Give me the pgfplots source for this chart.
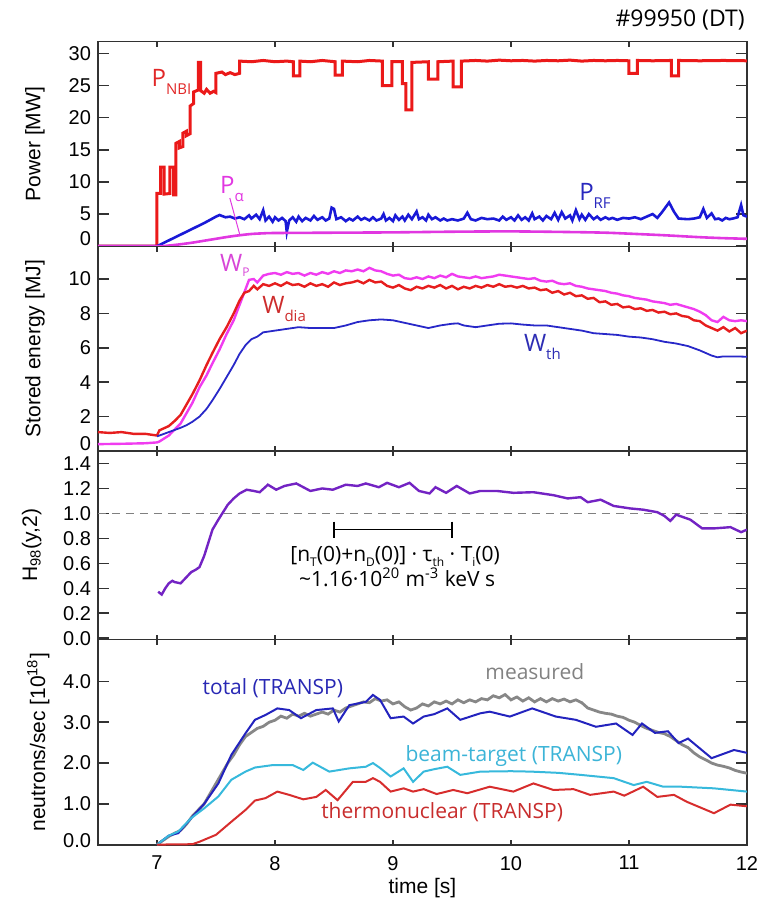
\documentclass[border=0pt]{standalone}
\usepackage{fontspec}
\setmainfont{Liberation Sans}
\newfontfamily\annot{Open Sans}
\usepackage{pgfplots}
\pgfplotsset{compat=1.18}

\definecolor{nbired}{RGB}{235,25,25}
\definecolor{rfblue}{RGB}{25,25,215}
\definecolor{alphamag}{RGB}{225,55,225}
\definecolor{wpmag}{RGB}{240,60,240}
\definecolor{wdiared}{RGB}{230,30,30}
\definecolor{wthblue}{RGB}{40,40,200}
\definecolor{hpurple}{RGB}{115,35,195}
\definecolor{totblue}{RGB}{35,35,190}
\definecolor{measgray}{RGB}{135,135,135}
\definecolor{btcyan}{RGB}{55,185,220}
\definecolor{thred}{RGB}{215,45,45}
\definecolor{frame}{RGB}{50,50,50}

\newcommand\sub[1]{\raisebox{-4pt}{\fontsize{7.5}{8}\selectfont #1}}
\newcommand\smallsub[1]{\raisebox{-2.2pt}{\fontsize{6}{7}\selectfont #1}}

\pgfplotsset{
  panel/.style={
    width=324.5pt, scale only axis,
    xmin=6.5, xmax=12, xtick={7,8,9,10,11,12},
    tick align=inside, xtick pos=both, ytick pos=both,
    axis line style={frame, line width=0.9pt},
    tick style={frame, line width=0.8pt},
    major tick length=5.5pt,
    xtick style={/pgfplots/major tick length=2.5pt},
    xticklabels={},
    ticklabel style={font=\fontsize{10}{12}\selectfont},
    /pgf/number format/assume math mode=true,
    ylabel style={anchor=center, font=\fontsize{10.5}{12}\selectfont},
    clip mode=individual,
    anchor=south west,
  }
}

\begin{document}
\begin{tikzpicture}
\path[use as bounding box] (0pt,0pt) rectangle (379.5pt,-450.5pt);

% ---------- Panel 1: Power ----------
\begin{axis}[panel, at={(49pt,-123.25pt)}, height=102.5pt,
  ymin=-0.05, ymax=31.85, ytick={0,5,10,15,20,25,30},
  yticklabels={\raisebox{0.4pt}[0pt][0pt]{0},5,10,15,20,25,30},
  ylabel={Power [MW]}, ylabel style={at={(axis description cs:-0.097,0.5)}}]
\addplot[nbired, line width=1.5pt] coordinates {
(6.5,0)(7.0,0)(7.0,8.2)(7.03,8.2)(7.03,12.3)(7.06,12.3)(7.06,8.1)(7.11,8.2)(7.11,12.3)(7.14,12.3)(7.14,8.0)(7.16,8.0)(7.16,16.0)(7.19,16.3)(7.19,15.3)(7.22,15.5)(7.22,17.6)(7.25,17.9)(7.25,17.2)(7.28,17.5)(7.28,21.8)(7.31,22.2)(7.31,24.0)(7.35,24.3)(7.35,28.6)(7.37,28.6)(7.37,24.2)(7.40,23.8)(7.42,24.4)(7.45,23.8)(7.48,24.1)(7.50,23.9)(7.50,26.9)(7.55,27.1)(7.58,26.7)(7.62,27.0)(7.66,26.7)(7.70,26.9)(7.70,28.8)(7.8,28.7)(7.9,28.9)(8.0,28.7)(8.1,28.8)(8.155,28.7)(8.155,26.5)(8.21,26.5)(8.21,28.8)(8.3,28.7)(8.4,28.9)(8.51,28.7)(8.51,26.6)(8.57,26.6)(8.57,28.8)(8.7,28.7)(8.8,28.9)(8.91,28.8)(8.91,25.0)(8.99,25.0)(8.99,28.7)(9.08,28.7)(9.08,25.3)(9.11,25.3)(9.11,21.2)(9.16,21.2)(9.16,28.6)(9.3,28.7)(9.3,26.0)(9.38,26.0)(9.38,28.7)(9.51,28.8)(9.51,24.8)(9.58,24.8)(9.58,28.8)(9.7,28.9)(9.8,28.8)(9.9,28.95)(10.0,28.85)(10.1,28.9)(10.2,28.8)(10.3,28.9)(10.4,28.85)(10.5,28.95)(10.6,28.8)(10.7,28.9)(10.8,28.85)(10.9,28.9)(11.0,28.85)(11.0,26.9)(11.07,26.9)(11.07,28.9)(11.2,28.85)(11.36,28.9)(11.36,26.5)(11.42,26.5)(11.42,28.9)(11.6,28.85)(11.8,28.9)(12.0,28.85)};
\addplot[rfblue, line width=1.3pt] coordinates {
(6.5,0)(7.0,0)(7.1,0.9)(7.2,1.8)(7.3,2.7)(7.4,3.6)(7.5,4.6)(7.53,4.85)(7.58,4.5)(7.62,4.6)(7.66,4.3)(7.7,4.5)(7.74,4.2)(7.78,4.8)(7.8,4.3)(7.84,4.9)(7.87,4.2)(7.9,5.6)(7.92,4.0)(7.95,4.6)(7.98,3.8)(8.0,4.5)(8.03,4.0)(8.06,4.4)(8.09,3.9)(8.1,2.2)(8.12,4.0)(8.15,4.5)(8.18,3.8)(8.2,4.6)(8.23,3.9)(8.26,4.4)(8.3,4.0)(8.33,4.7)(8.36,4.1)(8.4,4.5)(8.43,4.0)(8.46,4.3)(8.48,6.0)(8.5,5.8)(8.52,4.2)(8.56,4.5)(8.6,3.9)(8.63,4.3)(8.66,4.0)(8.7,4.6)(8.73,4.1)(8.76,4.4)(8.8,4.0)(8.83,4.5)(8.86,4.0)(8.9,4.3)(8.92,5.0)(8.94,4.0)(8.97,4.4)(9.0,3.9)(9.02,4.8)(9.05,4.1)(9.08,4.6)(9.1,4.0)(9.13,4.9)(9.16,4.2)(9.2,5.4)(9.22,4.2)(9.25,4.5)(9.28,4.0)(9.3,4.9)(9.33,4.2)(9.36,4.5)(9.4,4.0)(9.43,4.3)(9.46,4.0)(9.5,4.2)(9.55,4.0)(9.6,4.3)(9.63,5.2)(9.66,4.2)(9.7,4.0)(9.75,4.4)(9.8,4.2)(9.85,4.3)(9.9,4.0)(9.93,4.6)(9.96,4.1)(10.0,4.5)(10.03,4.0)(10.06,4.8)(10.09,4.1)(10.12,4.5)(10.15,4.0)(10.18,5.1)(10.2,4.2)(10.24,4.6)(10.27,4.0)(10.3,4.7)(10.34,4.2)(10.37,5.2)(10.4,4.1)(10.43,5.3)(10.46,4.3)(10.5,4.8)(10.52,4.0)(10.55,5.6)(10.58,4.2)(10.6,4.9)(10.63,4.1)(10.66,5.0)(10.7,4.2)(10.73,4.6)(10.76,4.1)(10.8,4.5)(10.83,4.2)(10.86,4.4)(10.9,4.1)(10.95,4.4)(11.0,4.3)(11.05,4.5)(11.1,4.2)(11.15,4.6)(11.2,5.0)(11.24,4.4)(11.28,5.3)(11.34,6.8)(11.38,5.4)(11.42,4.3)(11.5,4.2)(11.55,4.3)(11.6,4.5)(11.63,5.8)(11.66,4.4)(11.7,5.1)(11.73,4.2)(11.76,4.3)(11.79,4.0)(11.82,4.4)(11.85,4.2)(11.88,4.3)(11.92,4.5)(11.95,6.4)(11.97,4.8)(12.0,4.6)};
\addplot[alphamag, line width=1.3pt, smooth] coordinates {
(6.5,0)(7.0,0)(7.1,0.1)(7.2,0.3)(7.3,0.55)(7.4,0.85)(7.5,1.15)(7.6,1.45)(7.7,1.7)(7.8,1.9)(7.9,2.0)(8.0,2.05)(8.5,2.1)(9.0,2.15)(9.5,2.25)(10.0,2.3)(10.5,2.2)(10.8,2.1)(11.0,1.95)(11.3,1.7)(11.6,1.4)(11.8,1.25)(12.0,1.15)};
\addplot[alphamag, line width=0.5pt] coordinates {(7.617,7.5)(7.70,1.9)};
\node[anchor=base west, inner sep=0pt, text={rgb,255:red,225;green,40;blue,40}, font=\annot\fontsize{12}{14}\selectfont] at (axis cs:6.952,24.8) {P\sub{NBI}};
\node[anchor=base west, inner sep=0pt, text=alphamag, font=\annot\fontsize{12}{14}\selectfont] at (axis cs:7.532,8.23) {P\sub{α}};
\node[anchor=base west, inner sep=0pt, text={rgb,255:red,40;green,40;blue,190}, font=\annot\fontsize{12}{14}\selectfont] at (axis cs:10.575,7.18) {P\sub{RF}};
\end{axis}

% ---------- Panel 2: Stored energy ----------
\begin{axis}[panel, at={(49pt,-225.5pt)}, height=102.25pt,
  ymin=0, ymax=11.89, ytick={0,2,4,6,8,10},
  yticklabels={\raisebox{0.4pt}[0pt][0pt]{0},2,4,6,8,10},
  ylabel={Stored energy [MJ]}, ylabel style={at={(axis description cs:-0.097,0.5)}}]
\addplot[wpmag, line width=1.2pt] coordinates {
(6.5,0.4)(6.7,0.42)(6.9,0.45)(7.0,0.5)(7.02,0.55)(7.1,0.9)(7.2,1.6)(7.25,2.2)(7.3,2.8)(7.36,3.7)(7.42,4.4)(7.47,5.1)(7.53,5.9)(7.59,6.8)(7.65,7.6)(7.70,8.5)(7.75,9.4)(7.78,9.95)(7.82,10.0)(7.85,9.8)(7.9,10.2)(7.95,10.3)(8.0,10.35)(8.05,10.25)(8.1,10.4)(8.15,10.3)(8.2,10.35)(8.25,10.2)(8.3,10.35)(8.35,10.25)(8.4,10.4)(8.45,10.3)(8.5,10.45)(8.55,10.35)(8.6,10.5)(8.65,10.45)(8.7,10.55)(8.75,10.45)(8.8,10.65)(8.85,10.5)(8.9,10.45)(8.95,10.3)(9.0,10.2)(9.05,10.25)(9.1,10.05)(9.15,10.0)(9.2,10.1)(9.25,10.0)(9.3,10.15)(9.35,10.05)(9.4,10.2)(9.45,10.1)(9.5,10.3)(9.55,10.15)(9.6,10.1)(9.65,10.05)(9.7,10.15)(9.75,10.05)(9.8,10.1)(9.85,10.15)(9.9,10.25)(9.95,10.2)(10.0,10.15)(10.05,10.1)(10.1,10.05)(10.15,10.0)(10.2,10.05)(10.25,9.9)(10.3,9.85)(10.35,9.9)(10.4,9.75)(10.45,9.7)(10.5,9.75)(10.55,9.6)(10.6,9.55)(10.65,9.45)(10.7,9.4)(10.75,9.35)(10.8,9.3)(10.85,9.2)(10.9,9.15)(10.95,9.05)(11.0,9.0)(11.05,8.9)(11.1,8.85)(11.15,8.8)(11.2,8.7)(11.25,8.65)(11.3,8.6)(11.35,8.5)(11.4,8.55)(11.45,8.45)(11.5,8.35)(11.55,8.25)(11.6,8.1)(11.65,7.9)(11.7,7.6)(11.75,7.5)(11.8,7.8)(11.85,7.6)(11.9,7.55)(11.95,7.6)(12.0,7.55)};
\addplot[wdiared, line width=1.2pt] coordinates {
(6.5,1.1)(6.6,1.05)(6.7,1.1)(6.8,1.0)(6.9,1.0)(7.0,0.9)(7.02,1.2)(7.1,1.45)(7.15,1.75)(7.2,2.1)(7.25,2.7)(7.3,3.3)(7.36,4.1)(7.42,5.0)(7.47,5.7)(7.53,6.5)(7.59,7.2)(7.65,8.0)(7.70,8.75)(7.74,9.2)(7.78,9.3)(7.82,9.6)(7.85,9.4)(7.9,9.7)(7.95,9.6)(8.0,9.75)(8.05,9.6)(8.1,9.8)(8.15,9.65)(8.2,9.7)(8.25,9.55)(8.3,9.75)(8.35,9.6)(8.4,9.7)(8.45,9.55)(8.5,9.8)(8.55,9.65)(8.6,9.75)(8.65,9.8)(8.7,9.9)(8.75,9.75)(8.8,9.95)(8.85,9.8)(8.9,9.85)(8.95,9.6)(9.0,9.5)(9.05,9.65)(9.1,9.45)(9.15,9.35)(9.2,9.55)(9.25,9.45)(9.3,9.6)(9.35,9.5)(9.4,9.65)(9.45,9.45)(9.5,9.6)(9.55,9.4)(9.6,9.55)(9.65,9.45)(9.7,9.6)(9.75,9.5)(9.8,9.65)(9.85,9.55)(9.9,9.7)(9.95,9.55)(10.0,9.6)(10.05,9.5)(10.1,9.6)(10.15,9.45)(10.2,9.5)(10.25,9.35)(10.3,9.4)(10.35,9.2)(10.4,9.3)(10.45,9.1)(10.5,9.2)(10.55,9.0)(10.6,9.05)(10.65,8.85)(10.7,8.9)(10.75,8.65)(10.8,8.7)(10.85,8.5)(10.9,8.55)(10.95,8.35)(11.0,8.4)(11.05,8.25)(11.1,8.3)(11.15,8.15)(11.2,8.2)(11.25,8.05)(11.3,8.1)(11.35,7.95)(11.4,8.0)(11.45,7.85)(11.5,7.8)(11.55,7.6)(11.6,7.55)(11.65,7.3)(11.7,7.15)(11.75,7.0)(11.8,7.2)(11.85,6.95)(11.9,7.15)(11.95,6.85)(12.0,7.0)};
\addplot[wthblue, line width=0.9pt] coordinates {
(7.0,0.85)(7.1,1.1)(7.2,1.35)(7.25,1.5)(7.3,1.7)(7.36,2.0)(7.42,2.45)(7.47,2.95)(7.53,3.6)(7.59,4.3)(7.65,5.0)(7.70,5.65)(7.75,6.15)(7.8,6.5)(7.85,6.65)(7.9,6.9)(7.95,6.95)(8.0,7.0)(8.1,7.1)(8.2,7.2)(8.3,7.15)(8.4,7.15)(8.5,7.15)(8.6,7.3)(8.7,7.5)(8.8,7.6)(8.9,7.65)(9.0,7.6)(9.1,7.45)(9.2,7.3)(9.3,7.15)(9.4,7.3)(9.5,7.4)(9.55,7.42)(9.6,7.3)(9.7,7.2)(9.8,7.3)(9.9,7.4)(10.0,7.42)(10.1,7.35)(10.2,7.3)(10.3,7.3)(10.4,7.2)(10.5,7.1)(10.6,7.0)(10.7,6.85)(10.8,6.8)(10.9,6.75)(11.0,6.65)(11.1,6.6)(11.2,6.5)(11.3,6.35)(11.4,6.25)(11.5,6.1)(11.6,5.85)(11.7,5.55)(11.75,5.45)(11.8,5.5)(11.9,5.5)(12.0,5.48)};
\node[anchor=base west, inner sep=0pt, text={rgb,255:red,215;green,70;blue,215}, font=\annot\fontsize{12}{14}\selectfont] at (axis cs:7.532,10.42) {W\smallsub{P}};
\node[anchor=base west, inner sep=0pt, text={rgb,255:red,205;green,45;blue,45}, font=\annot\fontsize{12}{14}\selectfont] at (axis cs:7.889,8.0) {W\sub{dia}};
\node[anchor=base west, inner sep=0pt, text={rgb,255:red,45;green,45;blue,180}, font=\annot\fontsize{12}{14}\selectfont] at (axis cs:10.107,5.77) {W\sub{th}};
\end{axis}

% ---------- Panel 3: H98 ----------
\begin{axis}[panel, at={(49pt,-319.75pt)}, height=94.25pt,
  ymin=-0.01, ymax=1.5, ytick={0,0.2,0.4,0.6,0.8,1.0,1.2,1.4},
  yticklabels={0.0,0.2,0.4,0.6,0.8,1.0,1.2,1.4},
  ylabel={H\textsubscript{98}(y,2)}, ylabel style={at={(axis description cs:-0.102,0.5)}}]
\addplot[gray, dashed, line width=0.8pt, dash pattern=on 4pt off 3pt] coordinates {(6.5,1.0)(12,1.0)};
\addplot[hpurple, line width=1.2pt] coordinates {
(7.01,0.373)(7.04,0.35)(7.07,0.40)(7.10,0.44)(7.13,0.46)(7.15,0.45)(7.2,0.44)(7.25,0.49)(7.29,0.53)(7.33,0.55)(7.36,0.57)(7.40,0.66)(7.44,0.78)(7.47,0.87)(7.52,0.95)(7.56,1.01)(7.60,1.07)(7.65,1.12)(7.70,1.16)(7.76,1.19)(7.82,1.18)(7.87,1.17)(7.94,1.23)(8.01,1.19)(8.08,1.22)(8.18,1.24)(8.24,1.21)(8.30,1.18)(8.40,1.20)(8.49,1.19)(8.60,1.23)(8.70,1.22)(8.77,1.24)(8.88,1.21)(8.95,1.245)(9.05,1.21)(9.14,1.245)(9.22,1.18)(9.31,1.16)(9.36,1.21)(9.45,1.165)(9.54,1.22)(9.65,1.16)(9.74,1.18)(9.88,1.18)(10.02,1.165)(10.19,1.17)(10.36,1.146)(10.48,1.12)(10.59,1.13)(10.65,1.09)(10.76,1.11)(10.87,1.06)(11.01,1.04)(11.12,1.03)(11.24,1.01)(11.30,0.98)(11.35,0.94)(11.40,0.99)(11.52,0.95)(11.62,0.88)(11.72,0.88)(11.86,0.89)(11.95,0.85)(12.0,0.87)};
\addplot[black, line width=0.8pt, mark=|, mark size=4pt, mark options={line width=0.8pt}] coordinates {(8.5,0.87)(9.5,0.87)};
\node[anchor=base, inner sep=0pt, font=\annot\fontsize{10.5}{12}\selectfont] at (axis cs:9.018,0.613) {[n\smallsub{T}(0)+n\smallsub{D}(0)] · τ\smallsub{th} · T\smallsub{i}(0)};
\node[anchor=base, inner sep=0pt, font=\annot\fontsize{10.5}{12}\selectfont] at (axis cs:9.035,0.418) {\textasciitilde1.16·10\textsuperscript{20} m\textsuperscript{-3} keV s};
\end{axis}

% ---------- Panel 4: neutrons ----------
\begin{axis}[panel, at={(49pt,-422.5pt)}, height=102.75pt,
  ymin=-0.01, ymax=5.03, ytick={0,1,2,3,4},
  yticklabels={\raisebox{-1.6pt}[0pt][0pt]{0.0},1.0,2.0,3.0,4.0},
  xticklabels={7,8,9,10,11,12},
  xticklabel style={yshift=-2pt},
  xlabel={time [s]}, xlabel style={at={(axis description cs:0.5,-0.21)}, anchor=center, font=\fontsize{10.5}{12}\selectfont},
  ylabel={neutrons/sec [10\textsuperscript{18}]}, ylabel style={at={(axis description cs:-0.092,0.5)}}]
\addplot[measgray, line width=1.4pt] coordinates {
(7.0,0)(7.05,0.1)(7.1,0.2)(7.15,0.28)(7.2,0.35)(7.25,0.5)(7.3,0.7)(7.35,0.85)(7.4,1.0)(7.45,1.25)(7.5,1.5)(7.55,1.75)(7.6,2.0)(7.65,2.2)(7.7,2.45)(7.75,2.65)(7.8,2.75)(7.85,2.85)(7.9,2.9)(7.95,3.0)(8.0,3.05)(8.05,3.15)(8.1,3.1)(8.15,3.2)(8.2,3.15)(8.25,3.22)(8.3,3.15)(8.35,3.2)(8.4,3.25)(8.45,3.2)(8.5,3.3)(8.55,3.25)(8.6,3.35)(8.65,3.4)(8.7,3.45)(8.75,3.5)(8.8,3.48)(8.85,3.58)(8.9,3.52)(8.95,3.55)(9.0,3.45)(9.05,3.5)(9.1,3.38)(9.15,3.3)(9.2,3.35)(9.25,3.45)(9.3,3.4)(9.35,3.5)(9.4,3.45)(9.45,3.52)(9.5,3.45)(9.55,3.55)(9.6,3.48)(9.65,3.55)(9.7,3.5)(9.75,3.58)(9.8,3.55)(9.85,3.65)(9.9,3.6)(9.95,3.68)(10.0,3.55)(10.05,3.62)(10.1,3.52)(10.15,3.6)(10.2,3.5)(10.25,3.58)(10.3,3.5)(10.35,3.58)(10.4,3.52)(10.45,3.57)(10.5,3.5)(10.55,3.55)(10.6,3.48)(10.65,3.35)(10.7,3.3)(10.75,3.25)(10.8,3.22)(10.85,3.2)(10.9,3.15)(10.95,3.12)(11.0,3.05)(11.05,3.0)(11.1,2.92)(11.15,2.85)(11.2,2.8)(11.25,2.75)(11.3,2.72)(11.35,2.65)(11.4,2.55)(11.45,2.45)(11.5,2.38)(11.55,2.25)(11.6,2.15)(11.65,2.08)(11.7,2.0)(11.75,1.95)(11.8,1.92)(11.85,1.88)(11.9,1.82)(11.95,1.78)(12.0,1.75)};
\addplot[totblue, line width=1.0pt] coordinates {
(7.0,0)(7.1,0.22)(7.18,0.28)(7.29,0.65)(7.40,1.0)(7.52,1.5)(7.63,2.2)(7.75,2.73)(7.83,3.06)(7.92,3.18)(8.02,3.34)(8.12,3.3)(8.22,3.1)(8.35,3.3)(8.49,3.34)(8.54,3.02)(8.63,3.42)(8.77,3.5)(8.83,3.67)(8.89,3.55)(8.98,3.1)(9.09,3.14)(9.17,2.97)(9.26,3.14)(9.35,3.2)(9.46,3.34)(9.57,3.06)(9.74,3.22)(9.82,3.26)(9.99,3.14)(10.18,3.34)(10.38,3.14)(10.55,3.06)(10.72,2.89)(10.89,2.97)(11.03,2.69)(11.11,2.97)(11.22,2.74)(11.33,2.78)(11.42,2.49)(11.5,2.6)(11.70,2.12)(11.89,2.32)(12.0,2.25)};
\addplot[btcyan, line width=1.0pt] coordinates {
(7.0,0)(7.1,0.22)(7.18,0.32)(7.29,0.65)(7.40,0.89)(7.52,1.18)(7.63,1.59)(7.75,1.79)(7.83,1.89)(7.98,1.95)(8.15,1.95)(8.24,1.83)(8.32,2.01)(8.46,1.79)(8.63,1.87)(8.77,1.91)(8.83,2.0)(8.89,1.88)(8.98,1.67)(9.09,1.87)(9.17,1.54)(9.26,1.79)(9.35,1.85)(9.46,1.91)(9.57,1.71)(9.74,1.79)(10.0,1.8)(10.17,1.79)(10.4,1.76)(10.59,1.71)(10.87,1.63)(11.04,1.46)(11.15,1.54)(11.29,1.42)(11.44,1.42)(11.72,1.38)(12.0,1.3)};
\addplot[thred, line width=1.0pt] coordinates {
(7.0,0)(7.3,0.01)(7.36,0.07)(7.5,0.24)(7.63,0.56)(7.75,0.85)(7.83,1.08)(7.92,1.14)(8.02,1.3)(8.12,1.22)(8.24,1.11)(8.35,1.17)(8.43,1.34)(8.53,1.09)(8.66,1.54)(8.77,1.54)(8.83,1.63)(8.89,1.54)(8.98,1.3)(9.09,1.38)(9.17,1.3)(9.26,1.36)(9.37,1.24)(9.51,1.34)(9.63,1.26)(9.82,1.42)(10.02,1.3)(10.19,1.5)(10.36,1.34)(10.53,1.36)(10.67,1.22)(10.87,1.3)(10.96,1.2)(11.12,1.42)(11.24,1.17)(11.38,1.22)(11.49,1.05)(11.72,0.77)(11.86,0.98)(12.0,0.94)};
\node[anchor=base, inner sep=0pt, text={rgb,255:red,40;green,40;blue,180}, font=\annot\fontsize{10.5}{12}\selectfont] at (axis cs:7.982,3.69) {total (TRANSP)};
\node[anchor=base, inner sep=0pt, text={rgb,255:red,130;green,130;blue,130}, font=\annot\fontsize{10.5}{12}\selectfont] at (axis cs:10.202,4.04) {measured};
\node[anchor=base, inner sep=0pt, text={rgb,255:red,60;green,180;blue,215}, font=\annot\fontsize{10.5}{12}\selectfont] at (axis cs:10.024,2.03) {beam-target (TRANSP)};
\node[anchor=base, inner sep=0pt, text={rgb,255:red,200;green,45;blue,45}, font=\annot\fontsize{10.5}{12}\selectfont] at (axis cs:9.417,0.65) {thermonuclear (TRANSP)};
\end{axis}

\node[anchor=base east, inner sep=0pt, font=\annot\fontsize{11.5}{13}\selectfont] at (372.5pt,-13.3pt) {\#99950 (DT)};
\end{tikzpicture}
\end{document}
